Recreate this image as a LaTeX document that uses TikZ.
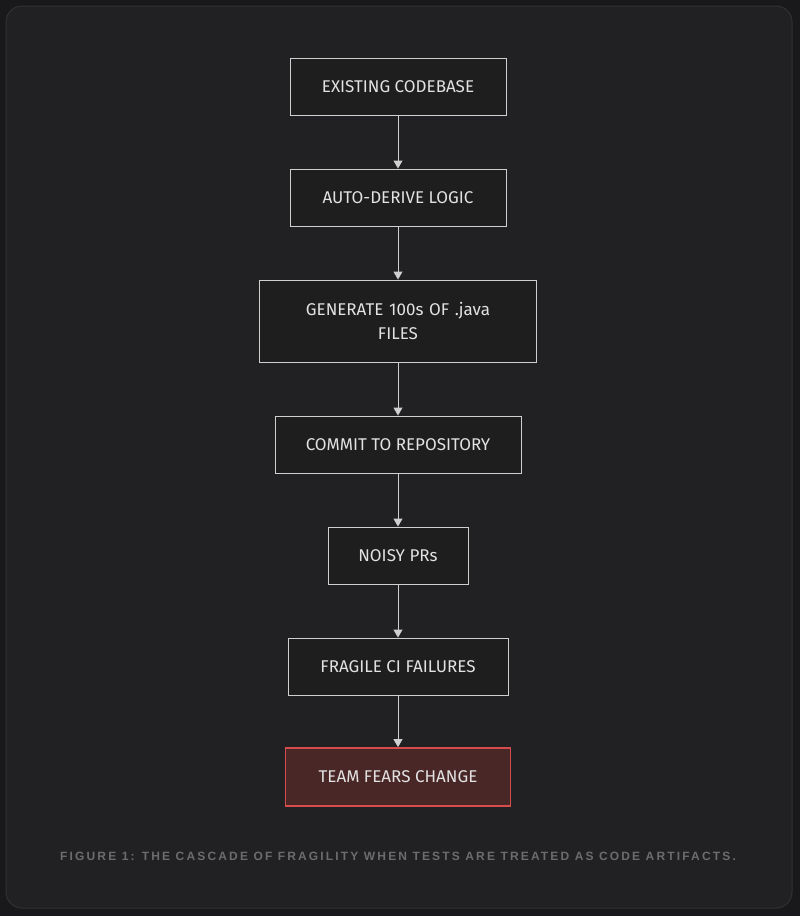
\documentclass[tikz,border=0pt]{standalone}
\usepackage{fontspec}
\setmainfont{Fira Sans}
\newfontfamily\capfont[LetterSpace=18]{Liberation Sans}
\usetikzlibrary{arrows.meta}
\definecolor{pagebg}{HTML}{19191B}
\definecolor{cardbg}{HTML}{212123}
\definecolor{cardline}{HTML}{313133}
\definecolor{boxfill}{HTML}{1E1E1F}
\definecolor{boxline}{HTML}{CFCFCF}
\definecolor{boxtext}{HTML}{E2E2E2}
\definecolor{alertfill}{HTML}{4A2727}
\definecolor{alertline}{HTML}{D44C4C}
\definecolor{capgray}{HTML}{6C6C6E}

\begin{document}
\begin{tikzpicture}[x=1pt,y=-1pt,
  stepbox/.style={draw=boxline,fill=boxfill,text=boxtext,line width=0.9pt,
    font=\fontsize{17}{24}\selectfont,minimum height=57pt,inner sep=0pt,align=center},
  alertbox/.style={stepbox,draw=alertline,fill=alertfill,line width=1.8pt},
  flow/.style={draw=boxline,line width=0.9pt,-{Triangle[length=8pt,width=9pt]}}]
\useasboundingbox (0,0) rectangle (800,916);
\fill[pagebg] (0,0) rectangle (800,916);
\draw[cardline,fill=cardbg,line width=1pt,rounded corners=16pt] (6,6) rectangle (792,908);
\node[stepbox,minimum width=216pt] (codebase) at (398,86.5) {EXISTING CODEBASE};
\node[stepbox,minimum width=216pt] (derive) at (398,197.5) {AUTO-DERIVE LOGIC};
\node[stepbox,minimum width=277pt,minimum height=82pt,text width=220pt] (generate) at (398,321) {GENERATE 100s OF .java\\FILES};
\node[stepbox,minimum width=246pt] (commit) at (398,444.5) {COMMIT TO REPOSITORY};
\node[stepbox,minimum width=140pt] (noisy) at (398,555.5) {NOISY PRs};
\node[stepbox,minimum width=220pt] (fragile) at (398,666.5) {FRAGILE CI FAILURES};
\node[alertbox,minimum width=225pt,minimum height=58pt] (fears) at (398,777) {TEAM FEARS CHANGE};
\draw[flow] (codebase.south) -- (derive.north);
\draw[flow] (derive.south) -- (generate.north);
\draw[flow] (generate.south) -- (commit.north);
\draw[flow] (commit.south) -- (noisy.north);
\draw[flow] (noisy.south) -- (fragile.north);
\draw[flow] (fragile.south) -- (fears.north);
\node[text=capgray,font=\capfont\bfseries\fontsize{12}{14}\selectfont] (caption) at (398,856) {FIGURE 1: THE CASCADE OF FRAGILITY WHEN TESTS ARE TREATED AS CODE ARTIFACTS.};
\end{tikzpicture}
\end{document}
